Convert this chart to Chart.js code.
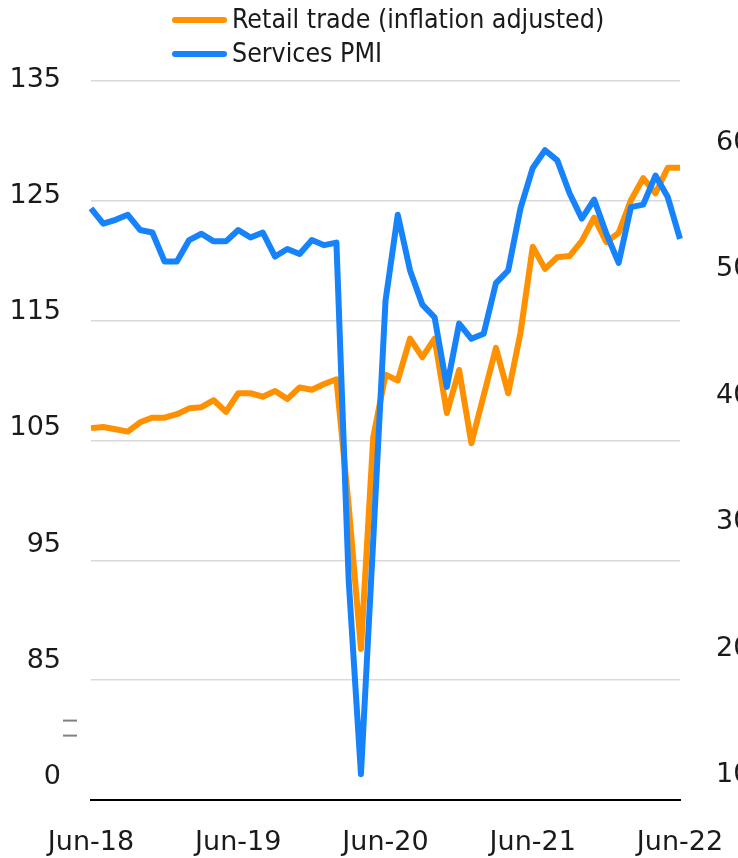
<!DOCTYPE html>
<html>
<head>
<meta charset="utf-8">
<script src="https://cdn.jsdelivr.net/npm/chart.js@4.4.1/dist/chart.umd.min.js"></script>
<style>
  html, body { margin: 0; padding: 0; background: #fff; overflow: hidden; }
  #wrap { position: relative; width: 760px; height: 858px; }
</style>
</head>
<body>
<div id="wrap"><canvas id="chart"></canvas></div>
<script>
const months = [
    'Jun-18', 'Jul-18', 'Aug-18', 'Sep-18', 'Oct-18', 'Nov-18', 'Dec-18',
    'Jan-19', 'Feb-19', 'Mar-19', 'Apr-19', 'May-19', 'Jun-19', 'Jul-19', 'Aug-19', 'Sep-19', 'Oct-19', 'Nov-19', 'Dec-19',
    'Jan-20', 'Feb-20', 'Mar-20', 'Apr-20', 'May-20', 'Jun-20', 'Jul-20', 'Aug-20', 'Sep-20', 'Oct-20', 'Nov-20', 'Dec-20',
    'Jan-21', 'Feb-21', 'Mar-21', 'Apr-21', 'May-21', 'Jun-21', 'Jul-21', 'Aug-21', 'Sep-21', 'Oct-21', 'Nov-21', 'Dec-21',
    'Jan-22', 'Feb-22', 'Mar-22', 'Apr-22', 'May-22', 'Jun-22'
];
const yearTicks = ['Jun-18', 'Jun-19', 'Jun-20', 'Jun-21', 'Jun-22'];

const retailTrade = [
    104.8, 104.9, 104.7, 104.5, 105.3, 105.7, 105.7, 106.0, 106.5, 106.6,
    107.2, 106.2, 107.8, 107.8, 107.5, 108.0, 107.3, 108.3, 108.1, 108.6,
    109.0, 98.1, 85.8, 104.0, 109.4, 108.9, 112.5, 110.9, 112.5, 106.1,
    109.8, 103.5, 107.6, 111.7, 107.8, 113.0, 120.4, 118.5, 119.5, 119.6,
    120.9, 122.9, 120.8, 121.6, 124.4, 126.3, 125.0, 127.2, 127.2
];
const servicesPmi = [
    54.6, 53.4, 53.7, 54.1, 52.9, 52.7, 50.4, 50.4, 52.1, 52.6,
    52.0, 52.0, 52.9, 52.3, 52.7, 50.8, 51.4, 51.0, 52.1, 51.7,
    51.9, 25.2, 9.9, 28.4, 47.3, 54.1, 49.7, 47.0, 46.0, 40.5,
    45.5, 44.3, 44.7, 48.7, 49.7, 54.6, 57.8, 59.2, 58.4, 55.8,
    53.8, 55.3, 52.6, 50.3, 54.7, 54.9, 57.2, 55.5, 52.2
];

// left axis is broken: the lowest tick stands for 0
const gridTicks = [75, 85, 95, 105, 115, 125, 135];
const leftTicks = [75, 85, 95, 105, 115, 125, 135];
const leftTickLabels = ['0', '85', '95', '105', '115', '125', '135'];
const rightTicks = [10, 20, 30, 40, 50, 60];

const ORANGE = '#ff9100';
const BLUE = '#1683fb';

Chart.defaults.font.family = '"DejaVu Sans", sans-serif';
Chart.defaults.font.size = 27;
Chart.defaults.color = '#1a1a1a';

// legend drawn by hand (two stacked rows) plus the axis-break mark
const legendAndBreak = {
    id: 'legendAndBreak',
    afterDraw(chart) {
        const ctx = chart.ctx;
        const area = chart.chartArea;
        chart.data.datasets.forEach((ds, i) => {
            const x = area.left + 81;
            const y = 20 + i * 34;
            ctx.save();
            ctx.strokeStyle = ds.borderColor;
            ctx.lineWidth = 6;
            ctx.lineCap = 'round';
            ctx.beginPath();
            ctx.moveTo(x + 3, y);
            ctx.lineTo(x + 52, y);
            ctx.stroke();
            ctx.fillStyle = '#1a1a1a';
            ctx.font = '26.5px "DejaVu Sans Condensed", "DejaVu Sans"';
            ctx.textBaseline = 'middle';
            ctx.fillText(ds.label, x + 60, y + 1);
            ctx.restore();
        });

        const yb = chart.scales.y.getPixelForValue(81);
        ctx.save();
        ctx.strokeStyle = '#808080';
        ctx.lineWidth = 2;
        [-7.5, 7.5].forEach(d => {
            ctx.beginPath();
            ctx.moveTo(area.left - 28, yb + d);
            ctx.lineTo(area.left - 14, yb + d);
            ctx.stroke();
        });
        ctx.restore();
    }
};

new Chart(document.getElementById('chart').getContext('2d'), {
    type: 'line',
    data: {
        labels: months,
        datasets: [{
            label: 'Retail trade (inflation adjusted)',
            data: retailTrade,
            borderColor: ORANGE,
            backgroundColor: ORANGE,
            yAxisID: 'yL',
            order: 2
        }, {
            label: 'Services PMI',
            data: servicesPmi,
            borderColor: BLUE,
            backgroundColor: BLUE,
            yAxisID: 'y1',
            order: 1
        }]
    },
    options: {
        responsive: true,
        maintainAspectRatio: false,
        animation: false,
        layout: {
            padding: {left: 0, right: 0, top: 81, bottom: 0}
        },
        elements: {
            point: {radius: 0},
            line: {borderWidth: 6, tension: 0, borderJoinStyle: 'round'}
        },
        scales: {
            x: {
                grid: {display: false, drawTicks: true, tickLength: 27},
                border: {display: true, color: '#000', width: 2},
                afterFit: axis => { axis.height = 58; },
                ticks: {
                    autoSkip: false,
                    maxRotation: 0,
                    padding: 0,
                    callback: (value, index) => yearTicks.includes(months[index]) ? months[index] : ''
                }
            },
            // grid only
            y: {
                position: 'left',
                min: 75,
                max: 135,
                afterBuildTicks: axis => { axis.ticks = gridTicks.map(v => ({value: v})); },
                afterFit: axis => { axis.width = 0; },
                grid: {color: '#d9d9d9', lineWidth: 1.5, drawTicks: false},
                border: {display: false},
                ticks: {display: false}
            },
            // labels only
            yL: {
                position: 'left',
                min: 72.81,
                max: 134.66,
                afterBuildTicks: axis => { axis.ticks = leftTicks.map(v => ({value: v})); },
                afterFit: axis => { axis.width = 91; },
                grid: {display: false, drawTicks: true, tickLength: 30},
                border: {display: false},
                ticks: {
                    padding: 0,
                    labelOffset: 2.5,
                    autoSkip: false,
                    callback: (value, index) => leftTickLabels[index]
                }
            },
            y1: {
                position: 'right',
                min: 7.86,
                max: 64.67,
                afterBuildTicks: axis => { axis.ticks = rightTicks.map(v => ({value: v})); },
                afterFit: axis => { axis.width = 80; },
                grid: {display: false, drawTicks: true, tickLength: 36},
                border: {display: false},
                ticks: {padding: 0, labelOffset: 2.5, autoSkip: false}
            }
        },
        plugins: {
            legend: {display: false},
            tooltip: {enabled: false}
        }
    },
    plugins: [legendAndBreak]
});
</script>
</body>
</html>
